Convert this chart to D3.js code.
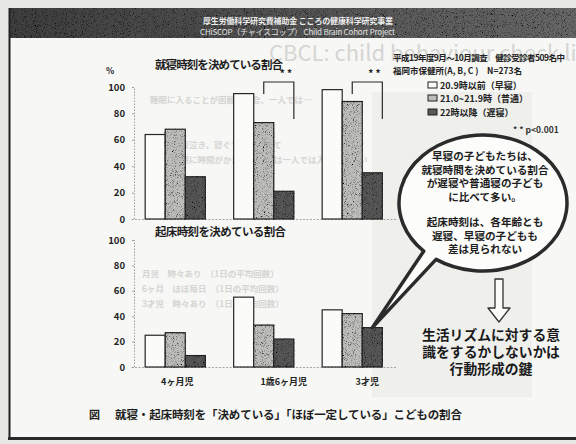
<!DOCTYPE html>
<html>
<head>
<meta charset="utf-8">
<script src="https://cdn.jsdelivr.net/npm/d3@7"></script>
<style>
  html, body { margin: 0; padding: 0; background: #e7e7e4; }
  svg { display: block; }
  text { font-family: "Noto Sans CJK JP", "Noto Sans", sans-serif; }
</style>
</head>
<body>
<svg id="chart" width="576" height="444"></svg>
<script>
// Age groups and bedtime groups
const categories = ["4ヶ月児", "1歳6ヶ月児", "3才児"];
const seriesNames = ["20.9時以前（早寝）", "21.0~21.9時（普通）", "22時以降（遅寝）"];

// Share of children with a fixed bedtime (%), per age group
const bedEarly  = [64, 95, 98];
const bedNormal = [68, 73, 89];
const bedLate   = [32, 21, 35];

// Share of children with a fixed wake-up time (%), per age group
const wakeEarly  = [25, 55, 45];
const wakeNormal = [27, 33, 42];
const wakeLate   = [9, 22, 31];

const yTicks = [0, 20, 40, 60, 80, 100];
const significantGroups = ["1歳6ヶ月児", "3才児"];

const W = 576, H = 444;
const svg = d3.select("#chart");
const defs = svg.append("defs");

// speckled print texture for the shaded bars
const grain = defs.append("filter").attr("id", "grain");
grain.append("feTurbulence").attr("type", "fractalNoise").attr("baseFrequency", 1.1)
  .attr("numOctaves", 2).attr("seed", 4).attr("result", "noise");
grain.append("feColorMatrix").attr("in", "noise").attr("type", "matrix")
  .attr("values", "0 0 0 0 0  0 0 0 0 0  0 0 0 0 0  -3.2 0 0 0 1.55").attr("result", "dots");
grain.append("feComposite").attr("in", "dots").attr("in2", "SourceGraphic").attr("operator", "in").attr("result", "clip");
const gm = grain.append("feMerge");
gm.append("feMergeNode").attr("in", "SourceGraphic");
gm.append("feMergeNode").attr("in", "clip");

const hdr = defs.append("linearGradient").attr("id", "hdr");
hdr.append("stop").attr("offset", "0").attr("stop-color", "#3f3f3f");
hdr.append("stop").attr("offset", "1").attr("stop-color", "#676767");

// slide background and frame
svg.append("rect").attr("width", W).attr("height", H).attr("fill", "#e7e7e4");
svg.append("rect").attr("x", 9).attr("y", 8).attr("width", W - 9).attr("height", 430).attr("fill", "#f7f7f5");
svg.append("rect").attr("x", 372).attr("y", 92).attr("width", 160).attr("height", 305).attr("fill", "#efefec");

// faint show-through from the neighbouring slide
const ghost = svg.append("g").attr("fill", "#d5d5d3").attr("font-weight", 700);
ghost.append("text").attr("x", 269).attr("y", 61).attr("font-family", "Liberation Sans, Arial")
  .attr("font-size", 22).attr("font-weight", 400).text("CBCL: child behaviour check list");
ghost.append("text").attr("x", 150).attr("y", 103).attr("font-size", 8.5).text("睡眠に入ることが困難な場合、一人では…");
ghost.append("text").attr("x", 172).attr("y", 148).attr("font-size", 8.5).text("・夜泣き、寝ぐずりについて");
ghost.append("text").attr("x", 172).attr("y", 163).attr("font-size", 8.5).text("入眠に時間がかかる、または一人では入眠できない");
ghost.append("text").attr("x", 142).attr("y", 277).attr("font-size", 8.5).text("月児　時々あり　（1日の平均回数）");
ghost.append("text").attr("x", 142).attr("y", 292).attr("font-size", 8.5).text("6ヶ月　ほぼ毎日　（1日の平均回数）");
ghost.append("text").attr("x", 142).attr("y", 307).attr("font-size", 8.5).text("3才児　時々あり　（1日の平均回数）");

// header band
svg.append("rect").attr("x", 9).attr("y", 8).attr("width", W - 9).attr("height", 30)
  .attr("fill", "url(#hdr)").attr("filter", "url(#grain)");
svg.append("text").attr("x", 203).attr("y", 24).attr("font-size", 8).attr("font-weight", 700)
  .attr("fill", "#ececec").attr("textLength", 190).text("厚生労働科学研究費補助金 こころの健康科学研究事業");
svg.append("text").attr("x", 200).attr("y", 35).attr("font-size", 8).attr("font-weight", 400)
  .attr("fill", "#e4e4e4").attr("textLength", 195).text("CHiSCOP（チャイスコップ） Child Brain Cohort Project");

svg.append("line").attr("x1", 9.5).attr("x2", 9.5).attr("y1", 8).attr("y2", 439).attr("stroke", "#222").attr("stroke-width", 2);
svg.append("line").attr("x1", 8).attr("x2", W).attr("y1", 438.5).attr("y2", 438.5).attr("stroke", "#2a2a2a").attr("stroke-width", 3);

// scales
const x = d3.scaleBand().domain(categories).range([131, 396.5]).paddingInner(0.32).paddingOuter(0.16);
const xs = d3.scaleBand().domain([0, 1, 2]).range([0, x.bandwidth()]);
const yTop = d3.scaleLinear().domain([0, 100]).range([219, 87]);
const yBot = d3.scaleLinear().domain([0, 100]).range([367, 240]);

const seriesFill = ["#fbfbf9", "#bdbdbb", "#575757"];
const numFont = "Liberation Sans, Arial, sans-serif";

function drawPanel(y, series, title, showCategories) {
  const g = svg.append("g");
  const rows = categories.flatMap((c, ci) => series.map((s, si) => ({ c, si, v: s[ci] })));

  // baseline
  const ax = g.append("g").attr("transform", `translate(0,${y(0)})`)
    .call(d3.axisBottom(x).tickSize(0).tickPadding(12).tickFormat(showCategories ? d => d : () => ""));
  ax.select(".domain").attr("stroke", "#a5a5a5").attr("stroke-dasharray", "2,1.5");
  if (showCategories) {
    const nudge = [2, 20, 15];
    ax.selectAll(".tick text").attr("dx", (d, i) => nudge[i])
      .attr("font-family", "Noto Sans CJK JP, sans-serif").attr("font-size", 9).attr("font-weight", 700).attr("fill", "#222");
  }

  // y axis
  const ay = g.append("g").attr("transform", "translate(134,0)")
    .call(d3.axisLeft(y).tickValues(yTicks).tickSize(2).tickPadding(7));
  ay.select(".domain").attr("stroke", "#9c9c9c").attr("stroke-dasharray", "1.5,1.5");
  ay.selectAll(".tick line").attr("stroke", "#a0a0a0");
  ay.selectAll(".tick text").attr("font-family", numFont).attr("font-size", 9.5)
    .attr("font-weight", 700).attr("fill", "#222");

  g.selectAll("rect.bar").data(rows).join("rect").attr("class", "bar")
    .attr("x", d => x(d.c) + xs(d.si))
    .attr("y", d => y(d.v))
    .attr("width", xs.bandwidth())
    .attr("height", d => y(0) - y(d.v))
    .attr("fill", d => seriesFill[d.si])
    .attr("stroke", "#262626").attr("stroke-width", 1.2)
    .attr("filter", d => d.si ? "url(#grain)" : null);

  g.append("text").attr("x", 155).attr("y", title.y).attr("font-size", 11.5).attr("font-weight", 700)
    .attr("fill", "#1e1e1e").attr("textLength", title.len).text(title.text);
  return g;
}

drawPanel(yTop, [bedEarly, bedNormal, bedLate], { text: "就寝時刻を決めている割合", y: 69, len: 128 }, false);
drawPanel(yBot, [wakeEarly, wakeNormal, wakeLate], { text: "起床時刻を決めている割合", y: 236, len: 131 }, true);

svg.append("text").attr("x", 106).attr("y", 74).attr("font-family", numFont).attr("font-size", 8.5)
  .attr("font-weight", 700).attr("fill", "#222").text("%");

// significance brackets on bedtime chart
significantGroups.forEach(c => {
  const xl = x(c) + xs(1) + xs.bandwidth() / 2;
  const xr = x(c) + x.bandwidth();
  svg.append("path").attr("d", `M${xl},94V82H${xr}V119`).attr("fill", "none")
    .attr("stroke", "#2a2a2a").attr("stroke-width", 1.2);
  svg.append("text").attr("x", xr - 8).attr("y", 77).attr("text-anchor", "middle")
    .attr("font-family", numFont).attr("font-size", 10).attr("font-weight", 700).attr("fill", "#222").text("* *");
});

// survey notes and legend
const note = svg.append("g").attr("font-size", 8.5).attr("font-weight", 700).attr("fill", "#222");
note.append("text").attr("x", 393).attr("y", 61).attr("textLength", 172).text("平成19年度9月～10月調査　健診受診者509名中");
note.append("text").attr("x", 393).attr("y", 74).text("福岡市保健所(A, B, C )　N=273名");

const legendY = [85, 98, 112];
const lg = svg.append("g");
lg.selectAll("rect").data(seriesNames).join("rect")
  .attr("x", 428).attr("y", (d, i) => legendY[i] - 3).attr("width", 9).attr("height", 6)
  .attr("fill", (d, i) => seriesFill[i]).attr("stroke", "#222").attr("stroke-width", 1);
lg.selectAll("text").data(seriesNames).join("text")
  .attr("x", 440).attr("y", (d, i) => legendY[i] + 3.5)
  .attr("font-size", 9).attr("font-weight", 700).attr("fill", "#222").text(d => d);
svg.append("text").attr("x", 513).attr("y", 133).attr("font-family", numFont).attr("font-size", 8.5)
  .attr("font-weight", 700).attr("fill", "#333").text("* *  p<0.001");

// speech bubble pointing at the late-bedtime 3-year-old bar
const cx = 483, cy = 203, rx = 84, ry = 68;
const tip = [x("3才児") + xs(2) + xs.bandwidth() / 2, yBot(wakeLate[2])];
function hitEllipse(p, d) {
  const ux = (p[0] - cx) / rx, uy = (p[1] - cy) / ry, vx = d[0] / rx, vy = d[1] / ry;
  const a = vx * vx + vy * vy, b = 2 * (ux * vx + uy * vy), c = ux * ux + uy * uy - 1;
  const t = (-b - Math.sqrt(b * b - 4 * a * c)) / (2 * a);
  return [p[0] + t * d[0], p[1] + t * d[1]];
}
const A = hitEllipse(tip, [41, -61]);
const B = hitEllipse(tip, [57, -61]);
svg.append("path")
  .attr("d", `M${A[0]},${A[1]}A${rx},${ry} 0 1 1 ${B[0]},${B[1]}L${tip[0]},${tip[1]}Z`)
  .attr("fill", "#fcfcfa").attr("stroke", "#2b2b2b").attr("stroke-width", 3.5).attr("stroke-linejoin", "round");

const bubbleLines = [
  ["早寝の子どもたちは、", 160],
  ["就寝時間を決めている割合", 173.5],
  ["が遅寝や普通寝の子ども", 187],
  ["に比べて多い。", 200.5],
  ["起床時刻は、各年齢とも", 226],
  ["遅寝、早寝の子どもも", 239.5],
  ["差は見られない", 253]
];
svg.append("g").selectAll("text").data(bubbleLines).join("text")
  .attr("x", 485).attr("y", d => d[1]).attr("text-anchor", "middle")
  .attr("font-size", 10.6).attr("font-weight", 700).attr("fill", "#1e1e1e").text(d => d[0]);

// hollow arrow and conclusion
svg.append("path").attr("d", "M495,279H503V308H510L499,322L488,308H495Z")
  .attr("fill", "#fbfbf9").attr("stroke", "#333").attr("stroke-width", 1.3).attr("stroke-linejoin", "round");
const concl = [["生活リズムに対する意", 340], ["識をするかしないかは", 357], ["行動形成の鍵", 374]];
svg.append("g").selectAll("text").data(concl).join("text")
  .attr("x", 491).attr("y", d => d[1]).attr("text-anchor", "middle")
  .attr("font-size", 13.8).attr("font-weight", 700).attr("fill", "#1a1a1a").text(d => d[0]);

// figure caption
svg.append("text").attr("x", 89).attr("y", 419).attr("font-size", 11).attr("font-weight", 700)
  .attr("fill", "#222").text("図");
svg.append("text").attr("x", 115).attr("y", 419).attr("font-size", 11.5).attr("font-weight", 700)
  .attr("fill", "#1e1e1e").attr("textLength", 347).text("就寝・起床時刻を「決めている」「ほぼ一定している」こどもの割合");
</script>
</body>
</html>
